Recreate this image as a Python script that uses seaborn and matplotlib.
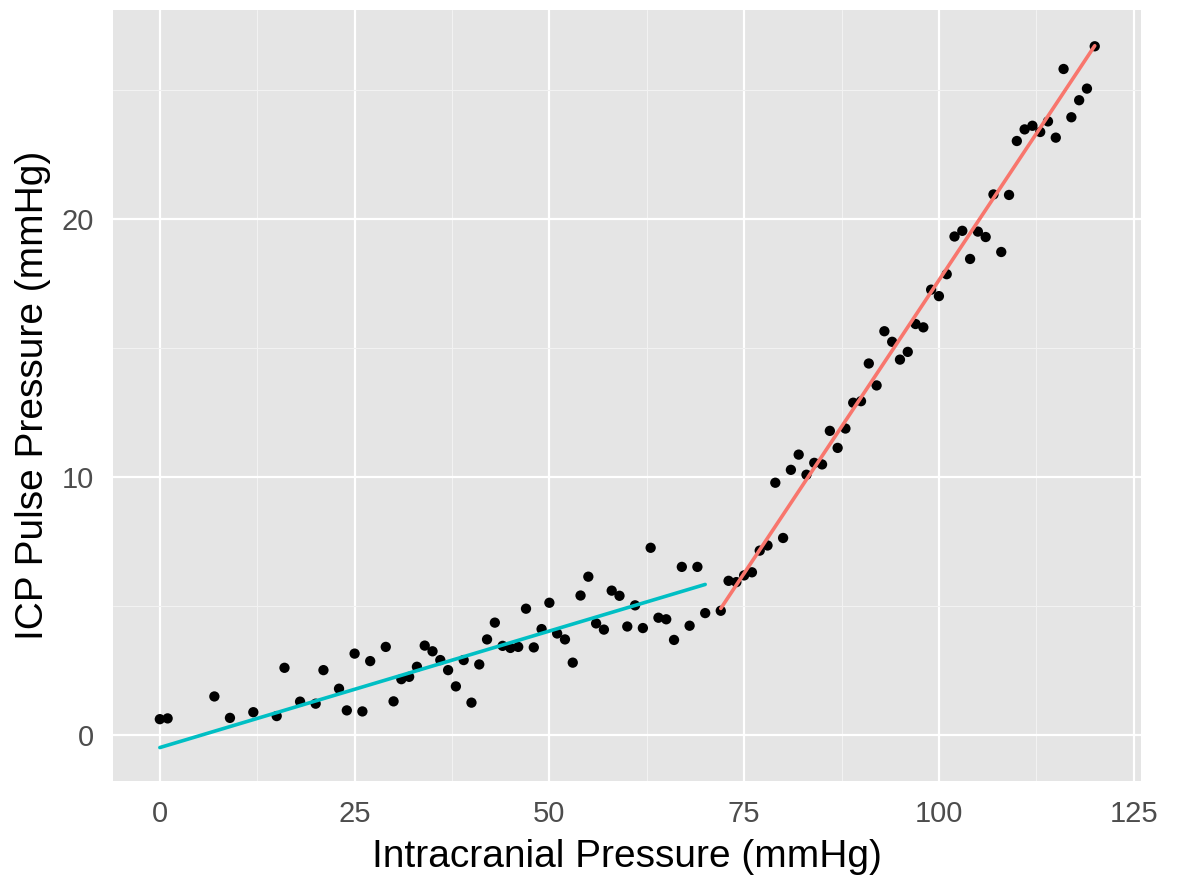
import matplotlib.pyplot as plt
from matplotlib.ticker import MultipleLocator
import pandas as pd
import seaborn as sns

# Below the breakpoint (compliant range)
icp_low = [0, 1, 7, 9, 12, 15, 16, 18, 20, 21, 23, 24, 25, 26, 27, 29, 30, 31,
           32, 33, 34, 35, 36, 37, 38, 39, 40, 41, 42, 43, 44, 45, 46, 47, 48,
           49, 50, 51, 52, 53, 54, 55, 56, 57, 58, 59, 60, 61, 62, 63, 64, 65,
           66, 67, 68, 69, 70]
pp_low = [0.61, 0.64, 1.49, 0.66, 0.88, 0.73, 2.60, 1.29, 1.21, 2.51, 1.79,
          0.95, 3.15, 0.91, 2.86, 3.41, 1.30, 2.16, 2.25, 2.64, 3.46, 3.24,
          2.90, 2.51, 1.88, 2.90, 1.25, 2.73, 3.70, 4.35, 3.45, 3.37, 3.41,
          4.89, 3.39, 4.10, 5.12, 3.93, 3.70, 2.80, 5.40, 6.13, 4.32, 4.08,
          5.59, 5.39, 4.20, 5.02, 4.14, 7.25, 4.54, 4.48, 3.68, 6.51, 4.23,
          6.51, 4.72]

# Above the breakpoint (exhausted compliance)
icp_high = [72, 73, 74, 75, 76, 77, 78, 79, 80, 81, 82, 83, 84, 85, 86, 87, 88,
            89, 90, 91, 92, 93, 94, 95, 96, 97, 98, 99, 100, 101, 102, 103, 104,
            105, 106, 107, 108, 109, 110, 111, 112, 113, 114, 115, 116, 117,
            118, 119, 120]
pp_high = [4.81, 5.97, 5.92, 6.18, 6.30, 7.14, 7.34, 9.77, 7.63, 10.27, 10.86,
           10.08, 10.54, 10.48, 11.78, 11.12, 11.87, 12.87, 12.93, 14.39,
           13.54, 15.64, 15.23, 14.54, 14.84, 15.92, 15.79, 17.25, 17.00,
           17.85, 19.31, 19.53, 18.44, 19.50, 19.29, 20.94, 18.71, 20.92,
           23.01, 23.46, 23.60, 23.36, 23.77, 23.14, 25.80, 23.93, 24.59,
           25.04, 26.68]

# Fitted lines (value at each end of the segment)
fit_low_icp = [0, 70]
fit_low_pp = [-0.49, 5.83]
fit_high_icp = [72, 120]
fit_high_pp = [4.90, 26.70]

x_ticks = [0, 25, 50, 75, 100, 125]
y_ticks = [0, 10, 20]


def main():
    sns.set_theme(style="darkgrid")
    plt.rcParams['font.family'] = ['Liberation Sans', 'DejaVu Sans']

    points = pd.DataFrame({"icp": icp_low + icp_high, "pp": pp_low + pp_high})

    fig, ax = plt.subplots(figsize=(11.78, 8.75), dpi=100)
    fig.subplots_adjust(left=0.096, right=0.969, top=0.989, bottom=0.107)
    ax.set_facecolor("#E5E5E5")

    sns.scatterplot(data=points, x="icp", y="pp", color="black", s=55,
                    edgecolor="none", ax=ax, zorder=3)
    sns.lineplot(x=fit_low_icp, y=fit_low_pp, color="#00BFC4", lw=2.6,
                 ax=ax, zorder=4)
    sns.lineplot(x=fit_high_icp, y=fit_high_pp, color="#F8766D", lw=2.6,
                 ax=ax, zorder=4)

    ax.set_xlim(-6, 126)
    ax.set_ylim(-1.8, 28.1)
    ax.set_xticks(x_ticks)
    ax.set_yticks(y_ticks)
    ax.xaxis.set_minor_locator(MultipleLocator(12.5))
    ax.yaxis.set_minor_locator(MultipleLocator(5))
    ax.grid(which="major", color="white", lw=1.6)
    ax.grid(which="minor", color="#F2F2F2", lw=0.8)
    ax.set_axisbelow(True)

    ax.tick_params(which="major", length=6.5, width=1.3, color="#4D4D4D",
                   labelsize=21, labelcolor="#4D4D4D", pad=7)
    ax.tick_params(which="minor", length=0)
    for spine in ax.spines.values():
        spine.set_visible(False)

    ax.set_xlabel("Intracranial Pressure (mmHg)", fontsize=28, color="black",
                  labelpad=8)
    ax.set_ylabel("ICP Pulse Pressure (mmHg)", fontsize=28, color="black",
                  labelpad=8)

    plt.savefig("out.png", dpi=100)


if __name__ == "__main__":
    main()
